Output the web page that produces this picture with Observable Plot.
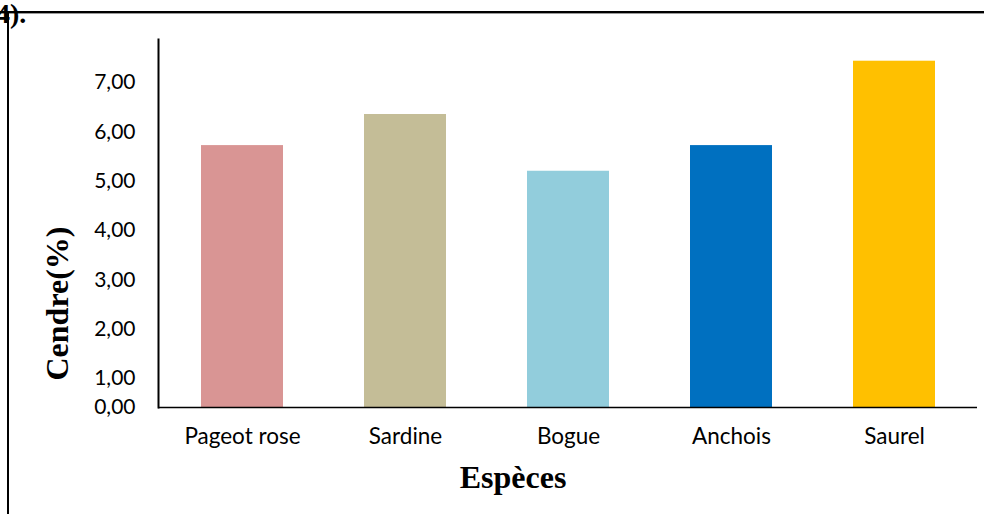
<!DOCTYPE html>
<html>
<head>
<meta charset="utf-8">
<script src="https://cdn.jsdelivr.net/npm/d3@7"></script>
<script src="https://cdn.jsdelivr.net/npm/@observablehq/plot@0.6"></script>
<style>
  html, body { margin: 0; padding: 0; background: #fff; }
  #page { position: relative; width: 984px; height: 514px; overflow: hidden; background: #fff; }
  #chart { position: absolute; left: 0; top: 0; }
  .rule-top { position: absolute; left: 0; top: 11px; width: 984px; height: 2px; background: #000; }
  .rule-top-shadow { position: absolute; left: 0; top: 13px; width: 984px; height: 1px; background: #9a9a9a; }
  .rule-left { position: absolute; left: 7px; top: 12px; width: 2px; height: 502px; background: #000; }
  .ref { position: absolute; left: -4px; top: 0px; font: bold 28px/28px "Liberation Serif", "Times New Roman", serif; color: #000; }
</style>
</head>
<body>
<div id="page">
  <div id="chart"></div>
  <div class="rule-top"></div>
  <div class="rule-top-shadow"></div>
  <div class="rule-left"></div>
  <div class="ref">4).</div>
</div>
<script>
// Ash content (%) per species
const species = ["Pageot rose", "Sardine", "Bogue", "Anchois", "Saurel"];
const cendre = [5.72, 6.35, 5.20, 5.72, 7.43];
const barColors = ["#D99594", "#C4BD97", "#92CDDC", "#0070C0", "#FFC000"];
const yTicks = [0, 1, 2, 3, 4, 5, 6, 7];
const yTitle = "Cendre(%)";
const xTitle = "Espèces";

const rows = species.map((s, i) => ({species: s, value: cendre[i]}));
const fmt = d => d.toFixed(2).replace(".", ",");

const W = 984, H = 514;
const mTop = 39, mBottom = 107, mLeft = 158, mRight = 7;

// The value axis compresses its first unit (0 → 1) to about 0.59 of a unit.
const firstUnit = 0.5878;
const squeeze = v => (v <= 1 ? v * firstUnit : firstUnit + (v - 1));
const yMax = 7.87;

const sans = "Lato, 'Open Sans', sans-serif";
const serif = "'Liberation Serif', 'Times New Roman', serif";

const chart = Plot.plot({
  width: W,
  height: H,
  marginTop: mTop,
  marginBottom: mBottom,
  marginLeft: mLeft,
  marginRight: mRight,
  style: {fontFamily: sans, fontSize: "21px", color: "#000", background: "transparent"},
  x: {domain: species, paddingInner: 0.5, paddingOuter: 0.25, label: null},
  y: {transform: squeeze, domain: [0, squeeze(yMax)], axis: null, label: null},
  color: {domain: species, range: barColors},
  marks: [
    Plot.barY(rows, {x: "species", y: "value", fill: "species"}),
    // value-axis tick labels, placed through the same (squeezed) y scale as the bars
    Plot.text(yTicks, {y: d => d, text: fmt, frameAnchor: "left", textAnchor: "end", lineAnchor: "middle",
      dx: -23, fontSize: 21, fill: "#000"}),
    Plot.axisX({tickSize: 0, tickPadding: 21, fontSize: 22.5, label: null}),
    Plot.ruleY([0], {stroke: "#000", strokeWidth: 1.5}),
    Plot.frame({anchor: "left", stroke: "#000", strokeWidth: 2}),
    Plot.text([yTitle], {text: d => d, frameAnchor: "left", textAnchor: "middle", lineAnchor: "middle",
      rotate: -90, dx: -101, dy: 80, fontFamily: serif, fontWeight: "bold", fontSize: 32, fill: "#000"}),
    Plot.text([xTitle], {text: d => d, frameAnchor: "bottom", textAnchor: "middle", lineAnchor: "middle",
      dx: -55, dy: 70, fontFamily: serif, fontWeight: "bold", fontSize: 32, fill: "#000"})
  ]
});
document.getElementById("chart").appendChild(chart);
</script>
</body>
</html>
